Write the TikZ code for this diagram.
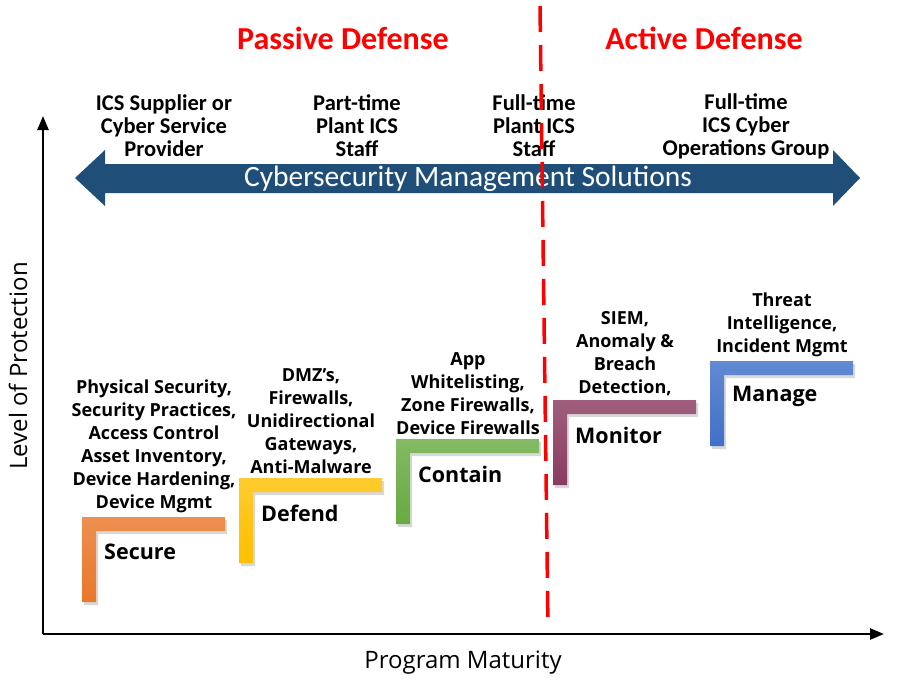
\documentclass[tikz,border=0pt]{standalone}
\usepackage{fontspec}
\setmainfont{Carlito}
\newfontfamily\stepfont{Open Sans}
\usetikzlibrary{arrows.meta,positioning}
\definecolor{secureorange}{HTML}{E9772A}
\definecolor{defendgold}{HTML}{FFC000}
\definecolor{containgreen}{HTML}{68AA42}
\definecolor{monitorplum}{HTML}{8A3B60}
\definecolor{manageblue}{HTML}{4070C8}
\definecolor{bannerblue}{HTML}{1F4E79}
\definecolor{defensered}{HTML}{FF0000}
\begin{document}
\begin{tikzpicture}[x=1pt,y=-1pt,>={Triangle[length=14pt,width=11pt]}]
\tikzset{title/.style={text=defensered,font=\fontsize{32}{34}\selectfont\bfseries},
  staff/.style={align=center,inner sep=0pt,font=\fontsize{22.5}{23}\selectfont\bfseries},
  desc/.style={align=center,inner sep=0pt,font=\stepfont\fontsize{18}{23}\selectfont\bfseries},
  steplabel/.style={anchor=west,inner sep=0pt,font=\stepfont\fontsize{21.5}{24}\selectfont\bfseries},
  axislabel/.style={font=\stepfont\fontsize{24}{26}\selectfont}}
\useasboundingbox (0,0) rectangle (903,683);
\node[title] (passive) at (343,38) {Passive Defense};
\node[title] (active) at (704,38) {Active Defense};
\node[staff] (supplier) at (164,126) {ICS Supplier or\\Cyber Service\\Provider};
\node[staff] (parttime) at (357,126) {Part-time\\Plant ICS\\Staff};
\node[staff] (fulltime) at (534,126) {Full-time\\Plant ICS\\Staff};
\node[staff] (opsgroup) at (746,126) {Full-time\\ICS Cyber\\Operations Group};
\fill[bannerblue] (75,178) -- (105,150) -- (105,164) -- (833,164) -- (833,150) -- (860,178)
  -- (833,206) -- (833,193) -- (105,193) -- (105,206) -- cycle;
\node[text=white,font=\fontsize{29.5}{31}\selectfont] (banner) at (468,179) {Cybersecurity Management Solutions};
\foreach \i/\name/\clr/\desc in {0/Secure/secureorange/{Physical Security,\\Security Practices,\\Access Control\\Asset Inventory,\\Device Hardening,\\Device Mgmt},
  1/Defend/defendgold/{DMZ’s,\\Firewalls,\\Unidirectional\\Gateways,\\Anti-Malware},
  2/Contain/containgreen/{App\\Whitelisting,\\Zone Firewalls,\\Device Firewalls},
  3/Monitor/monitorplum/{SIEM,\\Anomaly \&\\Breach\\Detection,},
  4/Manage/manageblue/{Threat\\Intelligence,\\Incident Mgmt}}{
  \coordinate (\name) at ({82+157*\i},{517-39*\i});
  \fill[black!30,opacity=0.5] ([shift={(2,3)}]\name) -- ++(143,0) -- ++(0,14) -- ++(-129,0) -- ++(0,71) -- ++(-14,0) -- cycle;
  \shade[top color=\clr!82!white,bottom color=\clr] (\name) -- ++(143,0) -- ++(0,14) -- ++(-129,0) -- ++(0,71) -- ++(-14,0) -- cycle;
  \node[steplabel] (\name-label) at ([shift={(22,35)}]\name) {\name};
  \node[desc,anchor=south] (\name-desc) at ([shift={(72,-4)}]\name) {\desc};
}
\draw[defensered,line width=3.5pt,dash pattern=on 26pt off 13pt] (540,6) -- (548,628);
\coordinate (origin) at (43,634);
\coordinate (ytip) at (43,116);
\coordinate (xtip) at (884,634);
\draw[->,line width=2.5pt] (origin) -- (ytip);
\draw[->,line width=2.5pt] (origin) -- (xtip);
\node[axislabel,rotate=90] (protection) at (18,366) {Level of Protection};
\node[axislabel] (maturity) at (463,663) {Program Maturity};
\end{tikzpicture}
\end{document}
